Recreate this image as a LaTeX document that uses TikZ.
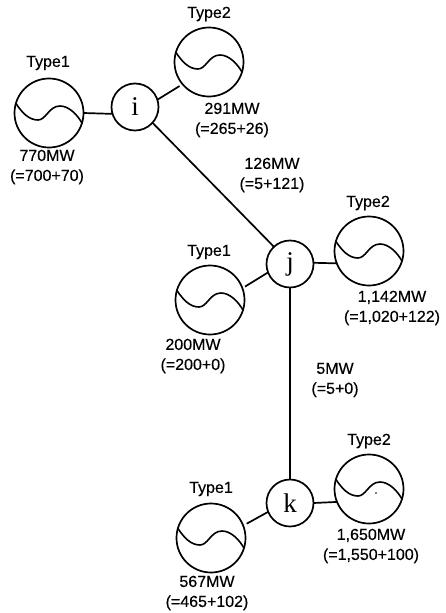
\documentclass[tikz,border=0pt]{standalone}
\usepackage{fontspec}
\setmainfont[FakeBold=0.3]{Liberation Sans}
\newfontfamily\busfont{Liberation Serif}
\begin{document}
\begin{tikzpicture}[x=1pt,y=-1pt,
  gen/.style={circle,draw,line width=1.7pt,minimum size=69pt,inner sep=0pt,outer sep=0pt,
    path picture={\draw[line width=1.6pt,shift={(path picture bounding box.center)}]
      (-34,-11) .. controls (-27,0) and (-20,7) .. (-11,7)
      .. controls (-3,7) and (0,-7) .. (11,-7)
      .. controls (20,-7) and (29,2) .. (34,12);}},
  bus/.style={circle,draw,line width=1.7pt,fill=white,minimum size=47pt,inner sep=0pt,outer sep=0pt,font=\fontsize{27}{27}\selectfont\busfont},
  lab/.style={inner sep=0pt,align=center,font=\fontsize{16}{20}\selectfont},
  conn/.style={line width=1.7pt}]
\useasboundingbox (0,0) rectangle (445,613);
\node[gen] (g1) at (49,113) {};
\node[gen] (g2) at (209,62) {};
\node[gen] (g3) at (210,300) {};
\node[gen] (g4) at (369,251) {};
\node[gen] (g5) at (211,538) {};
\node[gen] (g6) at (369,489) {};
\node[bus] (i) at (135,107) {i};
\node[bus] (j) at (290,264) {j};
\node[bus] (k) at (290,503) {k};
\draw[conn] (g1.0) -- (i.197);
\draw[conn,shorten >=3.5pt] (i.18) -- (g2.220);
\draw[conn] (i.318) -- (j.133);
\draw[conn,shorten >=3pt] (j.201) -- (g3.20);
\draw[conn] (j.3) -- (g4.201);
\draw[conn] (j.south) -- (k.north);
\draw[conn] (k.0) -- (g6.202);
\draw[conn,shorten >=4pt] (k.202) -- (g5.21);
\node[lab] (t1) at (48,63) {Type1};
\node[lab] (t2) at (209,14) {Type2};
\node[lab] (t3) at (209,252) {Type1};
\node[lab] (t4) at (368,203) {Type2};
\node[lab] (t5) at (211,489) {Type1};
\node[lab] (t6) at (369,441) {Type2};
\node[lab] (m1) at (47,167) {770MW\\(=700+70)};
\node[lab] (m2) at (232,120) {291MW\\(=265+26)};
\node[lab] (m3) at (272,175) {126MW\\(=5+121)};
\node[lab] (m4) at (193,356) {200MW\\(=200+0)};
\node[lab] (m5) at (392,308) {1,142MW\\(=1,020+122)};
\node[lab] (m6) at (335,380) {5MW\\(=5+0)};
\node[lab] (m7) at (207,593) {567MW\\(=465+102)};
\node[lab] (m8) at (371,546) {1,650MW\\(=1,550+100)};
\fill (376,493) circle (0.8pt);
\end{tikzpicture}
\end{document}
